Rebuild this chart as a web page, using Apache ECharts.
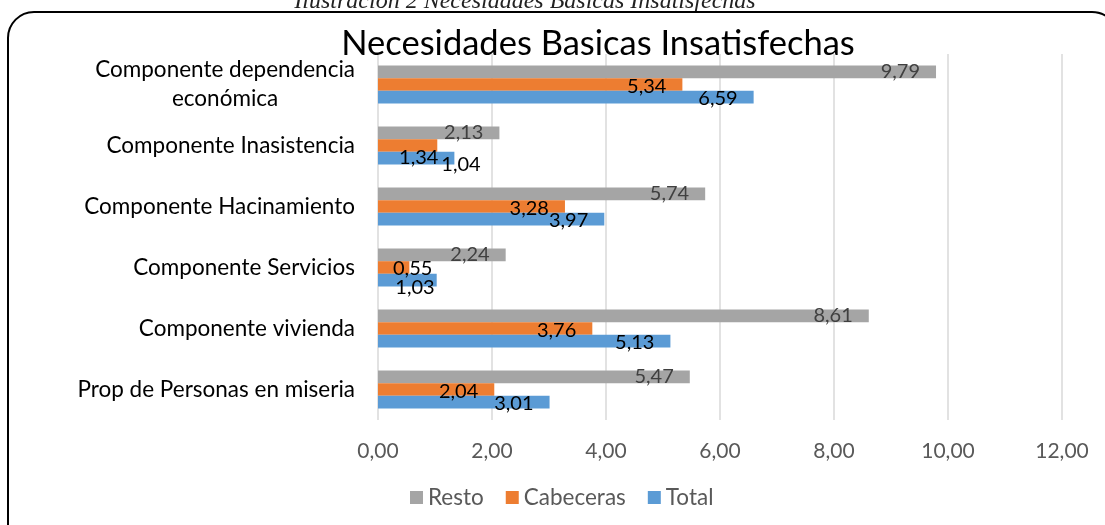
<!DOCTYPE html>
<html>
<head>
<meta charset="utf-8">
<script src="https://cdn.jsdelivr.net/npm/echarts@6/dist/echarts.min.js"></script>
<style>
  html, body { margin: 0; padding: 0; background: #fff; }
  #chart { width: 1105px; height: 525px; }
</style>
</head>
<body>
<div id="chart"></div>
<script>
// datos
const categorias = [
  "Componente dependencia económica",
  "Componente Inasistencia",
  "Componente Hacinamiento",
  "Componente Servicios",
  "Componente vivienda",
  "Prop de Personas en miseria"
];
const series = ["Resto", "Cabeceras", "Total"];
const resto = [9.79, 2.13, 5.74, 2.24, 8.61, 5.47];
const cabeceras = [5.34, 1.04, 3.28, 0.55, 3.76, 2.04];
const total = [6.59, 1.34, 3.97, 1.03, 5.13, 3.01];

const fuente = "Lato";
const coma = (v) => v.toFixed(2).replace(".", ",");

// etiquetas de barras cortas que en el original estan desplazadas
const ajustes = {
  Cabeceras: {
    1: { position: "right", distance: 4, offset: [0, 19] },
    3: { position: "insideLeft", distance: 15, offset: [0, 1] }
  },
  Total: {
    1: { offset: [0, -1] },
    3: { distance: 2, offset: [0, 7] }
  }
};

const chart = echarts.init(document.getElementById("chart"));

const hacerSerie = (nombre, valores, color, colorTexto, dy) => ({
  name: nombre,
  type: "bar",
  data: valores.map((v, i) => {
    const a = (ajustes[nombre] || {})[i];
    return a ? { value: v, label: a } : v;
  }),
  barGap: "0%",
  barCategoryGap: "38%",
  itemStyle: { color: color },
  label: {
    show: true,
    position: "insideRight",
    distance: 16,
    offset: [0, dy],
    color: colorTexto,
    fontFamily: fuente,
    fontSize: 20,
    formatter: (p) => coma(p.value)
  }
});

chart.setOption({
  animation: false,
  title: {
    text: "Necesidades Basicas Insatisfechas",
    left: 593,
    textAlign: "center",
    top: 21,
    textStyle: { fontFamily: fuente, fontWeight: "normal", fontSize: 34.5, color: "#000" }
  },
  legend: {
    data: series,
    left: 405,
    top: 481,
    icon: "rect",
    itemWidth: 13,
    itemHeight: 13,
    itemGap: 22,
    textStyle: { fontFamily: fuente, fontSize: 22.5, color: "#595959" }
  },
  grid: { left: 378, right: 43, top: 54, bottom: 105, containLabel: false },
  xAxis: {
    type: "value",
    min: 0,
    max: 12,
    interval: 2,
    axisLine: { show: false },
    axisTick: { show: false },
    splitLine: { lineStyle: { color: "#d9d9d9", width: 1.5 } },
    axisLabel: {
      margin: 21,
      fontFamily: fuente,
      fontSize: 21,
      color: "#595959",
      formatter: (v) => coma(v)
    }
  },
  yAxis: {
    type: "category",
    data: categorias,
    inverse: true,
    axisLine: { show: false },
    axisTick: { show: false },
    axisLabel: {
      margin: 23,
      fontFamily: fuente,
      fontSize: 22.5,
      color: "#000",
      formatter: (v) =>
        v === categorias[0]
          ? "{c|Componente dependencia}\n{c|económica}"
          : v,
      rich: {
        c: { align: "center", fontFamily: fuente, fontSize: 22.5, color: "#000", lineHeight: 29 }
      }
    }
  },
  series: [
    hacerSerie("Resto", resto, "#a5a5a5", "#404040", 0),
    hacerSerie("Cabeceras", cabeceras, "#ed7d31", "#000", 2),
    hacerSerie("Total", total, "#5b9bd5", "#000", 1)
  ],
  graphic: [
    {
      type: "text",
      style: {
        x: 525,
        y: 14,
        text: "Ilustración 2 Necesidades Basicas Insatisfechas",
        align: "center",
        verticalAlign: "bottom",
        font: "italic 24px 'Liberation Serif'",
        fill: "#222"
      }
    },
    {
      type: "rect",
      shape: { x: 8, y: 12, width: 1110, height: 540, r: 26 },
      style: { fill: "none", stroke: "#000", lineWidth: 2 },
      silent: true
    }
  ]
});
</script>
</body>
</html>
